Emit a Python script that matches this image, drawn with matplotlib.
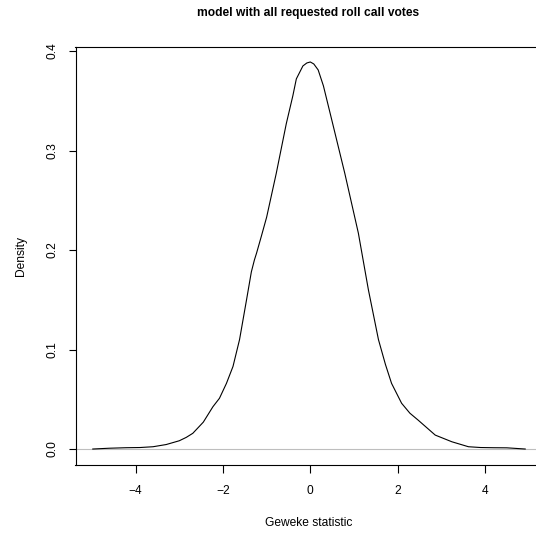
import matplotlib
matplotlib.use("Agg")
import matplotlib.pyplot as plt

# Density of Geweke statistics
geweke_x = [-4.98, -4.6, -4.22, -3.9, -3.6, -3.3, -3.0, -2.84, -2.69, -2.45,
            -2.23, -2.08, -1.92, -1.77, -1.62, -1.46, -1.35, -1.28, -1.23, -1.12,
            -1.00, -0.78, -0.55, -0.40, -0.32, -0.17, -0.08, 0.0, 0.08, 0.18,
            0.30, 0.49, 0.79, 1.10, 1.33, 1.56, 1.72, 1.86, 2.09, 2.28,
            2.47, 2.86, 3.24, 3.62, 3.9, 4.19, 4.5, 4.92]
density = [0.0000, 0.0008, 0.0013, 0.0015, 0.0023, 0.0045, 0.0083, 0.0117, 0.0158, 0.027,
           0.0425, 0.051, 0.066, 0.083, 0.11, 0.15, 0.178, 0.19, 0.197, 0.214,
           0.233, 0.277, 0.327, 0.355, 0.372, 0.385, 0.388, 0.389, 0.387, 0.381,
           0.365, 0.331, 0.277, 0.217, 0.160, 0.11, 0.085, 0.066, 0.046, 0.036,
           0.029, 0.014, 0.0073, 0.0023, 0.0015, 0.0013, 0.0012, 0.0]

x_ticks = [-4, -2, 0, 2, 4]
y_ticks = [0.0, 0.1, 0.2, 0.3, 0.4]
y_tick_labels = ["0.0", "0.1", "0.2", "0.3", "0.4"]
title = "model with all requested roll call votes"
x_label = "Geweke statistic"
y_label = "Density"

W, H = 536, 533
dpi = 100
fs = 8.64
plt.rcParams['font.family'] = ['Liberation Sans', 'DejaVu Sans']

fig = plt.figure(figsize=(W / dpi, H / dpi), dpi=dpi)
left, right, top, bottom = 75.5, 542.5, 46.5, 464.5
ax = fig.add_axes([left / W, 1 - bottom / H, (right - left) / W, (bottom - top) / H])

ax.axhline(0, color="#BEBEBE", lw=0.8, zorder=1)
ax.plot(geweke_x, density, color="black", lw=0.8, zorder=2, solid_joinstyle="round")

xr = max(geweke_x) - min(geweke_x)
ax.set_xlim(min(geweke_x) - 0.04 * xr, max(geweke_x) + 0.04 * xr)
yr = max(density) - min(density)
ax.set_ylim(min(density) - 0.04 * yr, max(density) + 0.04 * yr)

ax.set_xticks(x_ticks)
ax.set_xticklabels([("\u2212" + str(-t)) if t < 0 else str(t) for t in x_ticks])
ax.set_yticks(y_ticks)
ax.set_yticklabels(y_tick_labels, rotation=90, va="center")

for s in ax.spines.values():
    s.set_linewidth(0.8)
ax.tick_params(axis="both", length=5.4, width=0.8, labelsize=fs)
ax.tick_params(axis="x", pad=9)
ax.tick_params(axis="y", pad=7)

ax.set_xlabel(x_label, fontsize=fs, labelpad=15)
ax.set_ylabel(y_label, fontsize=fs, labelpad=14)
fig.text(308 / W, 1 - 13 / H, title, fontsize=fs, fontweight="bold",
         ha="center", va="center")

fig.savefig("out.png", dpi=dpi)
